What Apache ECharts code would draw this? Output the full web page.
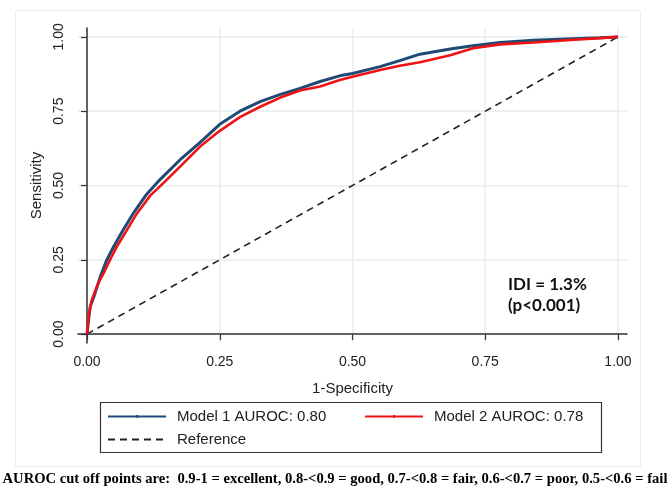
<!DOCTYPE html>
<html>
<head>
<meta charset="utf-8">
<script src="https://cdn.jsdelivr.net/npm/echarts@6/dist/echarts.min.js"></script>
<style>
  html, body { margin: 0; padding: 0; background: #fff; }
  #chart { width: 670px; height: 487px; }
</style>
</head>
<body>
<div id="chart"></div>
<script>
// ROC curves: false positive rate (1-Specificity) against sensitivity
const model1Fpr = [0, 0.003, 0.006, 0.015, 0.025, 0.037, 0.05, 0.068, 0.087, 0.112, 0.137, 0.175, 0.213, 0.25, 0.288, 0.326, 0.363, 0.401, 0.439, 0.476, 0.5, 0.552, 0.589, 0.627, 0.684, 0.727, 0.778, 0.841, 0.903, 0.966, 1.0];
const model1Tpr = [0, 0.05, 0.092, 0.137, 0.193, 0.249, 0.294, 0.350, 0.406, 0.470, 0.519, 0.586, 0.645, 0.706, 0.750, 0.782, 0.806, 0.827, 0.850, 0.869, 0.877, 0.900, 0.920, 0.942, 0.959, 0.970, 0.981, 0.989, 0.993, 0.997, 1.0];
const model2Fpr = [0, 0.0025, 0.0088, 0.021, 0.031, 0.043, 0.056, 0.075, 0.094, 0.119, 0.15, 0.188, 0.213, 0.25, 0.288, 0.326, 0.363, 0.401, 0.439, 0.476, 0.5, 0.552, 0.589, 0.627, 0.684, 0.727, 0.778, 0.841, 0.903, 0.966, 1.0];
const model2Tpr = [0, 0.058, 0.114, 0.171, 0.204, 0.249, 0.294, 0.350, 0.406, 0.466, 0.519, 0.586, 0.631, 0.684, 0.730, 0.765, 0.795, 0.820, 0.833, 0.855, 0.866, 0.889, 0.903, 0.915, 0.938, 0.962, 0.975, 0.981, 0.989, 0.996, 1.0];
const referenceFpr = [0, 1];
const referenceTpr = [0, 1];

const seriesNames = ['Model 1 AUROC: 0.80', 'Model 2 AUROC: 0.78', 'Reference'];
const tickValues = [0, 0.25, 0.5, 0.75, 1];
const annotationLines = ['IDI = 1.3%', '(p<0.001)'];
const footnote = 'AUROC cut off points are:  0.9-1 = excellent, 0.8-<0.9 = good, 0.7-<0.8 = fair, 0.6-<0.7 = poor, 0.5-<0.6 = fail';

const pairs = (xs, ys) => xs.map((x, i) => [x, ys[i]]);

const chart = echarts.init(document.getElementById('chart'), null, { renderer: 'canvas' });

const axisFont = { fontFamily: 'Liberation Sans, Arial, sans-serif', color: '#222' };

// Small item height keeps the legend marker dot tiny, as in a connected-line key
const legendBase = {
  orient: 'horizontal',
  padding: 0,
  itemWidth: 58,
  itemHeight: 3.5,
  lineStyle: { width: 2 },
  textStyle: { fontFamily: 'Liberation Sans, Arial, sans-serif', fontSize: 15, color: '#222', padding: [0, 0, 0, 6] },
  selectedMode: false
};

chart.setOption({
  animation: false,
  backgroundColor: '#fff',
  grid: { left: 78, top: 28, width: 549, height: 315, containLabel: false },
  xAxis: {
    type: 'value',
    min: -0.017,
    max: 1.017,
    name: '1-Specificity',
    nameLocation: 'middle',
    nameGap: 38,
    nameTextStyle: Object.assign({ fontSize: 15 }, axisFont),
    axisLine: { show: true, lineStyle: { color: '#333', width: 1.5 } },
    axisTick: { show: true, length: 6, customValues: tickValues, lineStyle: { color: '#333', width: 1.2 } },
    axisLabel: Object.assign({ fontSize: 14, margin: 12, customValues: tickValues, formatter: v => v.toFixed(2) }, axisFont),
    splitLine: { show: true, lineStyle: { color: '#e4ecf1', width: 1.5 } }
  },
  yAxis: {
    type: 'value',
    min: -0.03,
    max: 1.03,
    name: 'Sensitivity',
    nameLocation: 'middle',
    nameGap: 33,
    nameRotate: 90,
    nameTextStyle: Object.assign({ fontSize: 15 }, axisFont),
    axisLine: { show: true, lineStyle: { color: '#333', width: 1.5 } },
    axisTick: { show: true, length: 6, customValues: tickValues, lineStyle: { color: '#333', width: 1.2 } },
    axisLabel: Object.assign({ fontSize: 14, margin: 12, rotate: 90, customValues: tickValues, formatter: v => v.toFixed(2) }, axisFont),
    splitLine: { show: true, lineStyle: { color: '#e4ecf1', width: 1.5 } }
  },
  legend: [
    Object.assign({}, legendBase, { data: [seriesNames[0]], left: 107, top: 409 }),
    Object.assign({}, legendBase, { data: [seriesNames[1]], left: 364, top: 409 }),
    Object.assign({}, legendBase, { data: [seriesNames[2]], left: 107, top: 432, itemStyle: { opacity: 0 } })
  ],
  graphic: [
    {
      type: 'rect', z: -10, silent: true,
      shape: { x: 15.5, y: 10.5, width: 625, height: 456 },
      style: { fill: 'none', stroke: '#e6eef2', lineWidth: 1 }
    },
    {
      type: 'rect', z: -5, silent: true,
      shape: { x: 100.5, y: 402.5, width: 501, height: 50 },
      style: { fill: '#fff', stroke: '#333', lineWidth: 1.2 }
    },
    {
      type: 'text', left: 508, top: 274, silent: true,
      style: { text: annotationLines.join('\n'), font: 'bold 17px Lato, "Open Sans", sans-serif', fill: '#111', lineHeight: 21 }
    },
    {
      type: 'text', x: 335, y: 479, silent: true,
      style: { text: footnote, font: 'bold 14.6px "Liberation Serif", "Times New Roman", serif', fill: '#000', align: 'center', verticalAlign: 'middle' }
    }
  ],
  series: [
    {
      name: seriesNames[0],
      type: 'line',
      data: pairs(model1Fpr, model1Tpr),
      symbol: 'circle',
      symbolSize: 3,
      showSymbol: false,
      lineStyle: { color: '#1f4a74', width: 3 },
      itemStyle: { color: '#1f4a74' },
      z: 3
    },
    {
      name: seriesNames[1],
      type: 'line',
      data: pairs(model2Fpr, model2Tpr),
      symbol: 'circle',
      symbolSize: 3,
      showSymbol: false,
      lineStyle: { color: '#f01212', width: 2.6 },
      itemStyle: { color: '#f01212' },
      z: 4
    },
    {
      name: seriesNames[2],
      type: 'line',
      data: pairs(referenceFpr, referenceTpr),
      symbol: 'none',
      lineStyle: { color: '#222', width: 1.6, type: [7, 5] },
      itemStyle: { color: '#222' },
      z: 2
    }
  ]
});
</script>
</body>
</html>
